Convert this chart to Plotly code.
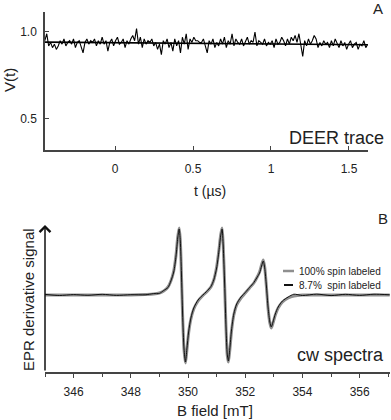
import numpy as np
import plotly.graph_objects as go

# DEER trace (top panel)
t_start, t_end = -0.45, 1.62
deer_v = [
    0.95, 0.99, 0.92, 0.94, 0.91, 0.93, 0.90, 0.92, 0.95, 0.93,
    0.96, 0.92, 0.94, 0.95, 0.93, 0.96, 0.91, 0.94, 0.95, 0.92,
    0.88, 0.94, 0.96, 0.93, 0.95, 0.94, 0.96, 0.92, 0.95, 0.93,
    0.97, 0.93, 0.95, 0.89, 0.94, 0.96, 0.92, 0.95, 0.97, 0.93,
    0.94, 0.96, 0.91, 0.95, 0.93, 0.96, 0.98, 0.95, 1.02, 0.93,
    0.97, 0.91, 0.96, 0.93, 0.95, 0.94, 0.96, 0.92, 0.94, 0.90,
    0.93, 0.87, 0.95, 0.93, 0.96, 0.91, 0.94, 0.89, 0.96, 0.92,
    0.95, 0.88, 0.97, 0.93, 0.99, 0.90, 0.96, 0.94, 0.97, 0.95,
    0.95, 0.94, 0.94, 0.96, 0.92, 0.88, 0.95, 0.93, 0.96, 0.91,
    0.94, 0.92, 0.96, 0.93, 0.97, 0.91, 0.95, 0.93, 0.99, 0.92,
    0.96, 0.94, 0.93, 0.96, 0.92, 0.95, 0.97, 0.93, 0.95, 0.94,
    1.00, 0.92, 0.95, 0.94, 0.93, 0.96, 0.92, 0.94, 0.93, 0.95,
    0.91, 0.96, 0.93, 0.94, 0.97, 0.95, 0.92, 0.96, 0.93, 0.97,
    0.95, 0.98, 0.94, 0.99, 0.93, 0.86, 0.95, 0.92, 0.96, 0.93,
    0.95, 0.98, 0.96, 0.91, 0.94, 0.92, 0.95, 0.93, 0.94, 0.91,
    0.95, 0.92, 0.96, 0.93, 0.91, 0.95, 0.92, 0.94, 0.90, 0.93,
    0.95, 0.91, 0.93, 0.94, 0.90, 0.93, 0.92, 0.95, 0.91, 0.93,
]
deer_t = np.linspace(t_start, t_end, len(deer_v))

fit_t = [-0.45, 0.0, 0.5, 1.0, 1.62]
fit_v = [0.942, 0.938, 0.934, 0.930, 0.927]

# cw EPR spectra (bottom panel), arbitrary units
b_field = [345.0, 345.5, 346.0, 346.5, 347.0, 347.5, 348.0, 348.5, 348.8, 349.0,
           349.15, 349.3, 349.4, 349.5, 349.58, 349.64, 349.69, 349.73, 349.77, 349.81,
           349.86, 349.91, 349.96, 350.02, 350.1, 350.2, 350.35, 350.5, 350.65, 350.8,
           350.9, 351.0, 351.08, 351.14, 351.19, 351.23, 351.28, 351.33, 351.37, 351.41,
           351.46, 351.52, 351.6, 351.7, 351.85, 352.0, 352.15, 352.3, 352.4, 352.5,
           352.57, 352.63, 352.68, 352.74, 352.8, 352.86, 352.91, 352.97, 353.05, 353.15,
           353.3, 353.5, 353.7, 354.0, 354.5, 355.0, 355.5, 356.0, 356.5, 357.05]
epr_100 = [0, 0, 0, 0, 0, 0, 0, 0.5, 1, 2,
           4, 8, 14, 24, 40, 58, 67, 55, 20, -20,
           -55, -68, -55, -38, -24, -14, -6, -1, 3, 8,
           15, 28, 45, 60, 67, 50, 10, -35, -60, -67,
           -55, -36, -20, -10, -3, 2, 7, 12, 17, 23,
           30, 35, 28, 8, -14, -28, -33, -28, -20, -13,
           -7, -3, -1, 0, 0, 0, 0, 0, 0, 0]
epr_87 = [0.6, -0.5, 0.4, -0.3, 0.7, -0.4, 0.3, 0.2, 1.4, 1.6,
          4.5, 7.5, 14, 23, 39, 57, 66, 54, 21, -19,
          -54, -67, -54, -37, -23, -13, -5, -0.5, 3.5, 8.5,
          15, 27, 44, 59, 66, 49, 11, -34, -59, -66,
          -54, -35, -19, -9, -2, 2.5, 7.5, 12.5, 17, 22,
          29, 34, 27, 9, -13, -27, -32, -27, -19, -12,
          -6, -2, 0.8, -0.5, 0.9, -0.6, 0.7, -0.4, 0.8, 0.2]

FONT = "Liberation Sans, Arial, sans-serif"
INK = "#222"
AX = "#444"
W, H = 391, 420


def px(x):
    return x / W


def py(y):
    return 1 - y / H


fig = go.Figure()

fig.add_trace(go.Scatter(x=deer_t, y=deer_v, mode="lines",
                         line=dict(color="black", width=1.1),
                         xaxis="x", yaxis="y"))
fig.add_trace(go.Scatter(x=fit_t, y=fit_v, mode="lines",
                         line=dict(color="black", width=1.6),
                         xaxis="x", yaxis="y"))

fig.add_trace(go.Scatter(x=b_field, y=epr_100, mode="lines",
                         line=dict(color="#8f8f8f", width=3, shape="spline", smoothing=0.7),
                         xaxis="x2", yaxis="y2"))
fig.add_trace(go.Scatter(x=b_field, y=epr_87, mode="lines",
                         line=dict(color="#111", width=1, shape="spline", smoothing=0.7),
                         xaxis="x2", yaxis="y2"))

axis_common = dict(showgrid=False, zeroline=False, showline=True, linecolor=AX,
                   linewidth=1.5, tickcolor=AX, tickfont=dict(size=12, color=INK, family=FONT))

fig.update_layout(
    width=W, height=H,
    margin=dict(l=0, r=0, t=0, b=0),
    paper_bgcolor="white", plot_bgcolor="white",
    showlegend=False,
    font=dict(family=FONT, color=INK),
    xaxis=dict(domain=[px(45), px(368)], range=[-0.449, 1.622], anchor="y",
               tickvals=[0, 0.5, 1, 1.5], ticktext=["0", "0.5", "1", "1.5"],
               ticks="inside", ticklen=4, ticklabelstandoff=7, **axis_common),
    yaxis=dict(domain=[py(150), py(12)], range=[0.3218, 1.1149], anchor="x",
               tickvals=[0.5, 1.0], ticktext=["0.5", "1.0"],
               ticks="inside", ticklen=4, ticklabelstandoff=4, **axis_common),
    xaxis2=dict(domain=[px(45), px(390)], range=[345, 357.06], anchor="y2",
                tick0=346, dtick=2, ticks="outside", ticklen=4, ticklabelstandoff=4,
                minor=dict(dtick=1, tick0=345, ticks="outside", ticklen=3, tickcolor=AX),
                **axis_common),
    yaxis2=dict(domain=[py(372), py(225)], range=[-77, 70], anchor="x2",
                showgrid=False, zeroline=False, showline=False, showticklabels=False),
)

# y axis arrow for the EPR panel
fig.add_annotation(x=345, y=70, ax=345, ay=-77, xref="x2", yref="y2",
                   axref="x2", ayref="y2", text="", showarrow=True,
                   arrowhead=4, arrowsize=1.4, arrowwidth=1.5, arrowcolor="#111")

texts = [
    ("A", px(378), py(8), 15, 0, "center"),
    ("B", px(383), py(218), 15, 0, "center"),
    ("DEER trace", px(386), py(138), 18, 0, "right"),
    ("cw spectra", px(386), py(355), 18, 0, "right"),
    ("t (µs)", px(210), py(191), 14, 0, "center"),
    ("B field [mT]", px(215), py(410), 15, 0, "center"),
    ("V(t)", px(9), py(80), 15, -90, "center"),
    ("EPR derivative signal", px(28), py(300), 15, -90, "center"),
    ("100% spin labeled", px(297), py(271), 10, 0, "left"),
    ("8.7%  spin labeled", px(297), py(285), 10, 0, "left"),
]
for txt, x, y, size, ang, anchor in texts:
    fig.add_annotation(x=x, y=y, xref="paper", yref="paper", text=txt,
                       showarrow=False, textangle=ang, xanchor=anchor, yanchor="middle",
                       font=dict(size=size, color=INK, family=FONT))

# legend line samples
fig.add_shape(type="line", xref="paper", yref="paper",
              x0=px(283), x1=px(294), y0=py(271), y1=py(271),
              line=dict(color="#8f8f8f", width=2.5))
fig.add_shape(type="line", xref="paper", yref="paper",
              x0=px(284), x1=px(293), y0=py(285), y1=py(285),
              line=dict(color="#111", width=2))

fig.write_html("out.html", config=dict(displayModeBar=False),
               post_script="document.body.style.margin='0';document.body.style.overflow='hidden';")
